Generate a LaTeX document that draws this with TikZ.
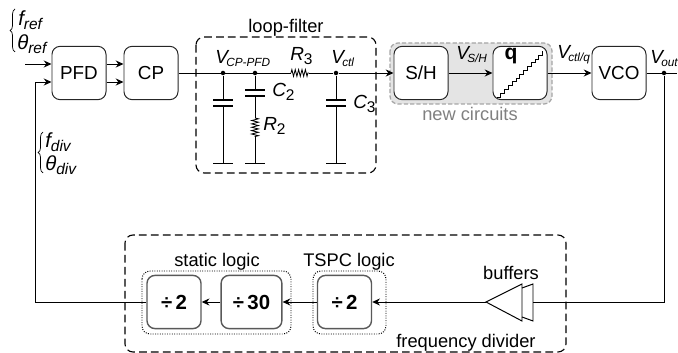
\documentclass[tikz,border=0pt]{standalone}
\usepackage{fontspec}
\usepackage{xcolor}
\usepackage{tikz}
\usetikzlibrary{arrows.meta, decorations.pathmorphing, decorations.pathreplacing}
\setmainfont{Liberation Sans}
\definecolor{regiongray}{RGB}{228,228,228}
\definecolor{labelgray}{RGB}{128,128,128}
\newcommand{\sigsym}[2]{{\fontsize{13.5}{14}\selectfont\itshape #1}\kern-1.2pt{\fontsize{8.4}{9}\selectfont\itshape\raisebox{-2pt}{#2}}}
\newcommand{\inpsym}[2]{{\fontsize{14.5}{15}\selectfont\itshape #1}{\fontsize{11}{11}\selectfont\itshape\raisebox{-2.5pt}{#2}}}
\newcommand{\cmpsym}[2]{{\fontsize{13.5}{14}\selectfont\itshape #1}{\fontsize{11}{11}\selectfont\raisebox{-2.5pt}{#2}}}

\begin{document}
\begin{tikzpicture}[x=0.025cm, y=-0.025cm, >={Stealth[length=5.5pt, width=5pt]},
  blk/.style={rectangle, rounded corners=0.2cm, draw=black!85, fill=white, line width=0.7pt,
    minimum width=1.35cm, minimum height=1.33cm, inner sep=0pt, font=\fontsize{13.4}{14}\selectfont},
  divblk/.style={blk, draw=black!65, line width=1pt, font=\fontsize{14.5}{15}\selectfont\bfseries},
  lbl/.style={anchor=base west, inner sep=0pt},
  txt/.style={anchor=base, inner sep=0pt, font=\fontsize{13}{14}\selectfont},
  wire/.style={line width=0.7pt},
  region/.style={dashed, dash pattern=on 5.5pt off 3pt, rounded corners=0.2cm, line width=0.8pt},
  group/.style={densely dotted, rounded corners=0.2cm, line width=0.7pt},
  plate/.style={line width=1.3pt},
  jdot/.style={circle, fill=black, inner sep=0pt, minimum size=3.2pt},
  res/.style={decorate, decoration={zigzag, segment length=2.4pt, amplitude=2.4pt}, line width=0.6pt},
  bracel/.style={decorate, decoration={brace, amplitude=3.5pt}, line width=0.5pt}]
  \useasboundingbox (0,0) rectangle (678,353);

  % regions
  \draw[region] (196,37) rectangle (376,173);
  \draw[region] (125,235) rectangle (566,352);
  \draw[dashed, dash pattern=on 3pt off 1.5pt, draw=black!35, fill=regiongray, rounded corners=0.2cm, line width=0.9pt]
    (390,43) rectangle (552,104);
  \draw[group] (142,271) rectangle (291,334);
  \draw[group] (313,271) rectangle (386,334);

  % blocks
  \node[blk] (pfd) at (79,73) {PFD};
  \node[blk] (cp) at (151,73) {CP};
  \node[blk] (sh) at (421,73) {S/H};
  \node[blk] (qnt) at (520,73) {};
  \node[blk] (vco) at (619,73) {VCO};
  \node[divblk] (div2a) at (174,302) {÷\,2};
  \node[divblk, minimum width=1.52cm] (div30) at (251.5,302) {÷\,30};
  \node[divblk] (div2b) at (344.5,302) {÷\,2};

  % quantizer staircase
  \node[lbl, anchor=base, font=\fontsize{15}{15}\selectfont\bfseries] (qlbl) at (511,60) {q};
  \coordinate (st) at (497,97);
  \draw[line width=0.6pt] (st) \foreach \i in {1,...,12} { -- ++(3.8,0) -- ++(0,-3.8) };

  % loop filter
  \node[jdot] (j1) at (223,73) {};
  \node[jdot] (j2) at (255,73) {};
  \node[jdot] (j3) at (336,73) {};
  \coordinate (r3a) at (291,73);
  \coordinate (r3b) at (309,73);
  \coordinate (g1) at (223,163);
  \coordinate (g2) at (255,163);
  \coordinate (g3) at (336,163);
  \coordinate (r2a) at (255,118);
  \coordinate (r2b) at (255,137);
  \draw[wire] (cp.east) -- (r3a);
  \draw[wire] (r3b) -- (j3);
  \draw[->, wire] (j3) -- (sh.west);
  \draw[res] (r3a) -- (r3b);
  \draw[wire] (j1) -- (g1);
  \draw[wire] (j3) -- (g3);
  \draw[wire] (j2) -- (r2a);
  \draw[res] (r2a) -- (r2b);
  \draw[wire] (r2b) -- (g2);
  % capacitors and grounds
  \foreach \cx/\cy in {223/100, 255/90, 336/100} {
    \fill[white] (\cx-10,\cy+0.5) rectangle (\cx+10,\cy+5.5);
    \draw[plate] (\cx-10,\cy) -- (\cx+10,\cy);
    \draw[plate] (\cx-10,\cy+6) -- (\cx+10,\cy+6);
  }
  \foreach \gnd in {g1, g2, g3} {
    \draw[wire] ([xshift=-7pt]\gnd) -- ([xshift=7pt]\gnd);
  }

  % forward path
  \coordinate (refin) at (25,64);
  \coordinate (divin) at (35,82);
  \coordinate (divcorner) at (35,302);
  \node[jdot] (jout) at (664,73) {};
  \coordinate (outend) at (677,73);
  \coordinate (fbright) at (664,302);
  \draw[->, wire] (refin) -- (pfd.west |- refin);
  \draw[->, wire] (divin) -- (pfd.west |- divin);
  \draw[->, wire] (pfd.east |- refin) -- (cp.west |- refin);
  \draw[->, wire] (pfd.east |- divin) -- (cp.west |- divin);
  \draw[->, wire] (sh.east) -- (qnt.west);
  \draw[->, wire] (qnt.east) -- (vco.west);
  \draw[wire] (vco.east) -- (outend);

  % feedback path
  \coordinate (buftip) at (486,302);
  \coordinate (bufa) at (522,284);
  \coordinate (bufb) at (522,321);
  \coordinate (bufa2) at (522,288);
  \coordinate (bufb2) at (522,317);
  \coordinate (bufc) at (533,284);
  \coordinate (bufd) at (533,321);
  \draw[wire] (jout) -- (fbright) -- (533,302);
  \draw[wire] (bufa2) -- (bufc) -- (bufd) -- (bufb2);
  \draw[wire] (buftip) -- (bufa) -- (bufb) -- cycle;
  \draw[->, wire] (buftip) -- (div2b.east);
  \draw[->, wire] (div2b.west) -- (div30.east);
  \draw[->, wire] (div30.west) -- (div2a.east);
  \draw[wire] (div2a.west) -- (divcorner) -- (divin);

  % braces
  \coordinate (bra) at (15,52);
  \coordinate (brb) at (15,9);
  \coordinate (brc) at (43,173);
  \coordinate (brd) at (43,132);
  \draw[bracel] (bra) -- (brb);
  \draw[bracel] (brc) -- (brd);

  % labels
  \node[lbl] (fref) at (18,26) {\inpsym{f}{ref}};
  \node[lbl] (tref) at (17,50) {\inpsym{θ}{ref}};
  \node[lbl] (fdiv) at (45,148) {\inpsym{f}{div}};
  \node[lbl] (tdiv) at (45,171) {\inpsym{θ}{div}};
  \node[lbl] (vcp) at (215,64) {\sigsym{V}{CP-PFD}};
  \node[lbl] (rthree) at (290,61) {\cmpsym{R}{3}};
  \node[lbl] (vctl) at (331,64) {\sigsym{V}{ctl}};
  \node[lbl] (ctwo) at (272,97) {\cmpsym{C}{2}};
  \node[lbl] (cthree) at (353,109) {\cmpsym{C}{3}};
  \node[lbl] (rtwo) at (263,131) {\cmpsym{R}{2}};
  \node[lbl] (vsh) at (456,60) {\sigsym{V}{S/H}};
  \node[lbl] (vctlq) at (557,59) {\sigsym{V}{ctl/q}};
  \node[lbl] (vout) at (650,64) {\sigsym{V}{out}};
  \node[txt] (loop) at (286,33) {loop-filter};
  \node[txt, text=labelgray] (newc) at (470,121) {new circuits};
  \node[txt] (stat) at (217,267) {static logic};
  \node[txt] (tspc) at (349,267) {TSPC logic};
  \node[txt] (buff) at (511,280) {buffers};
  \node[txt] (fdivider) at (466,348) {frequency divider};
\end{tikzpicture}
\end{document}
